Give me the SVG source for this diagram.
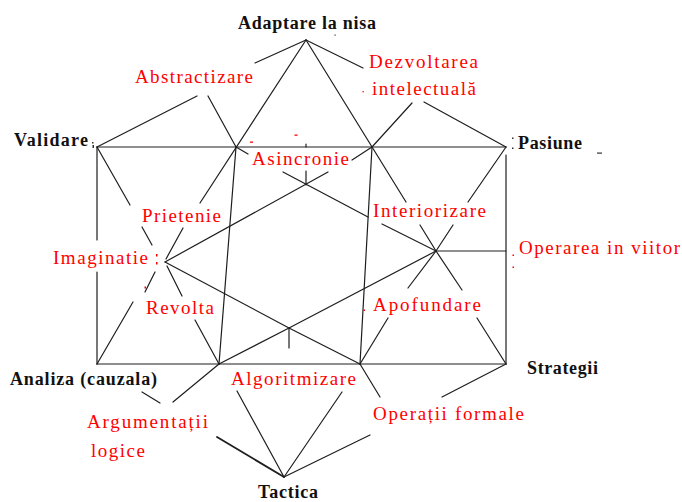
<svg xmlns="http://www.w3.org/2000/svg" width="682" height="502" viewBox="0 0 682 502">
<style>
.ln{stroke:#1e1e1e;stroke-width:1.2;fill:none;stroke-linecap:round}
.thick{stroke-width:1.8}
.blk{font-family:"Liberation Serif","Times New Roman",serif;font-weight:bold;font-size:18px;fill:#111}
.red{font-family:"Liberation Serif","Times New Roman",serif;font-size:19px;fill:#ff0000}
.rd{fill:#ff0000}
.bd{fill:#333}
</style>
<rect width="682" height="502" fill="#fff"/>
<g id="connectors">
  <path class="ln" d="M97,147 H506"/>
  <path class="ln" d="M506,155 V364"/>
  <path class="ln" d="M97,147 V240 M97,272 V364"/>
  <path class="ln" d="M97,364 H506"/>
  <path class="ln" d="M306,40 L200,203 M183,228 L166,259"/>
  <path class="ln" d="M306,40 L406,202 M420,225 L436,251"/>
  <path class="ln" d="M284,477 L237,391 M219,364 L195,320 M182,296 L167,266"/>
  <path class="ln" d="M284,477 L342,392 M360,364 L388,318 M408,288 L436,251"/>
  <path class="ln" d="M165,262 L328,172 M352,160 L372,147"/>
  <path class="ln" d="M236,147 L248,154 M283,172 L368,217 M382,224 L436,251"/>
  <path class="ln" d="M165,262 L289,328 L360,364"/>
  <path class="ln" d="M436,251 L289,328 L219,364"/>
  <path class="ln" d="M306,185 V171 M289,328 V348"/>
  <path class="ln" d="M236,147 L219,364"/>
  <path class="ln" d="M372,147 L360,364"/>
  <path class="ln" d="M97,147 L130,205 M142,227 L152,245"/>
  <path class="ln" d="M97,364 L133,302 M145,292 L155,272"/>
  <path class="ln" d="M506,147 L468,202 M453,225 L436,251"/>
  <path class="ln" d="M506,364 L477,318 M462,290 L436,251"/>
  <path class="ln" d="M436,251 H506"/>
  <path class="ln" d="M97,147 L197,96 M208,96 L236,147 M255,63 L306,40"/>
  <path class="ln" d="M306,40 L363,68 M412,103 L372,147 M424,102 L506,147"/>
  <path class="ln" d="M142,392 L160,403 M173,402 L219,364"/>
  <path class="ln thick" d="M217,437 L284,477"/>
  <path class="ln" d="M360,364 L380,397 M442,397 L506,364 M370,435 L284,477"/>
  <path class="ln" d="M306,144 V147"/>
</g>
<g id="marks">
  <rect class="bd" x="92" y="142" width="1.5" height="1.5"/>
  <rect class="bd" x="92.5" y="145" width="1.5" height="3"/>
  <rect class="bd" x="512" y="137.5" width="1.5" height="1.5"/>
  <rect class="bd" x="512" y="147.5" width="1.5" height="1.5"/>
  <rect class="bd" x="597" y="152.5" width="5" height="1.2"/>
  <rect class="bd" x="334.5" y="34.5" width="1.2" height="1.2"/>
  <rect class="rd" x="250" y="141.5" width="3" height="1.3"/>
  <rect class="rd" x="294.5" y="134.5" width="3" height="1.3"/>
  <rect class="rd" x="156" y="254" width="1.5" height="2.5"/>
  <rect class="rd" x="156" y="262" width="1.5" height="2.5"/>
  <rect class="rd" x="512.5" y="254.5" width="1.5" height="1.5"/>
  <rect class="rd" x="512.5" y="266.5" width="1.5" height="1.5"/>
  <rect class="rd" x="363.5" y="309.5" width="1.5" height="1.5"/>
  <rect class="rd" x="144.5" y="286.5" width="1.5" height="2"/>
  <rect class="rd" x="362.5" y="91" width="1.3" height="1.3"/>
</g>
<g id="n-adaptare"><text class="blk" x="238" y="29" font-size="17" textLength="138" lengthAdjust="spacing">Adaptare la nisa</text></g>
<g id="n-validare"><text class="blk" x="14" y="146" textLength="74" lengthAdjust="spacing">Validare</text></g>
<g id="n-pasiune"><text class="blk" x="518" y="149" textLength="64" lengthAdjust="spacing">Pasiune</text></g>
<g id="n-analiza"><text class="blk" x="10" y="385" textLength="147" lengthAdjust="spacing">Analiza (cauzala)</text></g>
<g id="n-strategii"><text class="blk" x="527" y="374" textLength="71" lengthAdjust="spacing">Strategii</text></g>
<g id="n-tactica"><text class="blk" x="258" y="498" textLength="60" lengthAdjust="spacing">Tactica</text></g>
<g id="n-abstractizare"><text class="red" x="135" y="83" textLength="118" lengthAdjust="spacing">Abstractizare</text></g>
<g id="n-dezvoltarea"><text class="red" x="369" y="68" textLength="109" lengthAdjust="spacing">Dezvoltarea</text><text class="red" x="372" y="95" textLength="104" lengthAdjust="spacing">intelectuală</text></g>
<g id="n-asincronie"><text class="red" x="252" y="165" textLength="97" lengthAdjust="spacing">Asincronie</text></g>
<g id="n-prietenie"><text class="red" x="142" y="222" textLength="79" lengthAdjust="spacing">Prietenie</text></g>
<g id="n-interiorizare"><text class="red" x="373" y="217" textLength="113" lengthAdjust="spacing">Interiorizare</text></g>
<g id="n-imaginatie"><text class="red" x="53" y="264" textLength="95" lengthAdjust="spacing">Imaginatie</text></g>
<g id="n-operarea"><text class="red" x="519" y="254" textLength="161" lengthAdjust="spacing">Operarea in viitor</text></g>
<g id="n-revolta"><text class="red" x="146" y="314" textLength="68" lengthAdjust="spacing">Revolta</text></g>
<g id="n-apofundare"><text class="red" x="373" y="311" textLength="108" lengthAdjust="spacing">Apofundare</text></g>
<g id="n-algoritmizare"><text class="red" x="231" y="385" textLength="125" lengthAdjust="spacing">Algoritmizare</text></g>
<g id="n-argumentatii"><text class="red" x="87" y="428" textLength="121" lengthAdjust="spacing">Argumentații</text><text class="red" x="91" y="457" textLength="54" lengthAdjust="spacing">logice</text></g>
<g id="n-operatii"><text class="red" x="373" y="420" textLength="151" lengthAdjust="spacing">Operații formale</text></g>
</svg>
